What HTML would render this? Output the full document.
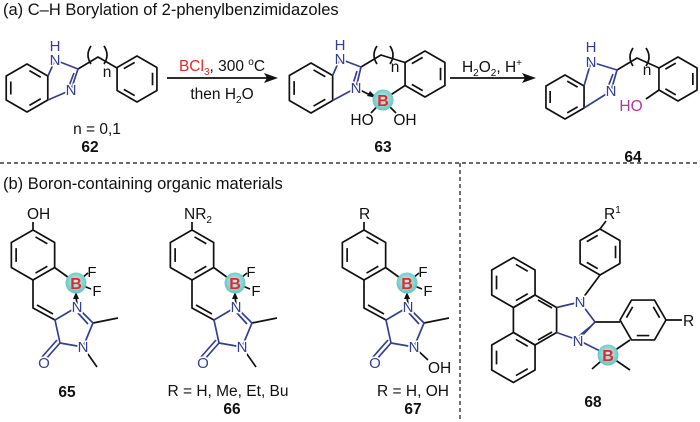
<!DOCTYPE html>
<html><head><meta charset="utf-8"><style>
html,body{margin:0;padding:0;background:#fff}
svg{display:block;font-family:"Liberation Sans",Arial,sans-serif}
.h{stroke:#fff;stroke-width:3;paint-order:stroke}
</style></head><body>
<svg width="700" height="422" viewBox="0 0 700 422" xmlns="http://www.w3.org/2000/svg">
<defs>
<radialGradient id="bg" cx="50%" cy="45%" r="55%"><stop offset="0" stop-color="#c9f0ee"/><stop offset="1" stop-color="#5ec5c3"/></radialGradient>
<path id="hA" vector-effect="non-scaling-stroke" d="M0,-1 L.866,-.5 L.866,.5 L0,1 L-.866,.5 L-.866,-.5Z M.101,-.722 L.574,-.449 M.574,.449 L.101,.722 M-.675,.273 L-.675,-.273"/>
<path id="hB" vector-effect="non-scaling-stroke" d="M0,-1 L.866,-.5 L.866,.5 L0,1 L-.866,.5 L-.866,-.5Z M.675,-.273 L.675,.273 M-.101,.722 L-.574,.449 M-.574,-.449 L-.101,-.722"/>
</defs>
<g font-size="16.5" fill="#111">
<text x="3" y="15">(a) C–H Borylation of 2-phenylbenzimidazoles</text>
<text x="3" y="189">(b) Boron-containing organic materials</text>
</g>
<g stroke="#111" stroke-width="1.2" stroke-dasharray="4 3" fill="none">
<line x1="0" y1="163" x2="700" y2="163"/>
<line x1="460" y1="163" x2="460" y2="422"/>
</g>

<g fill="none" stroke="#111" stroke-width="1.7" stroke-linejoin="round">
<!-- 62 -->
<use href="#hA" transform="translate(27,88) scale(24)"/>
<path d="M78,69 L98,57 L117,68"/>
<path d="M91,46 Q85,55 91,64 M104,46 Q110,55 104,64"/>
<use href="#hB" transform="translate(137,79) scale(23)"/>
<line x1="167" y1="78" x2="270" y2="78"/>
<!-- 63 -->
<use href="#hA" transform="translate(311,88) scale(25)"/>
<path d="M361,67 L381,55 L405,62.5"/>
<path d="M377,46 Q371,55 377,64 M390,46 Q396,55 390,64"/>
<use href="#hB" transform="translate(425,74) scale(23)"/>
<path d="M405,85.5 L383,100 M383,100 L371,113 M383,100 L396,113 M356,88 L372,96"/>
<line x1="450" y1="78" x2="528" y2="78"/>
<!-- 64 -->
<use href="#hA" transform="translate(565,97) scale(22)"/>
<path d="M617,70 L637,58 L659,68"/>
<path d="M633,48 Q627,57 633,66 M646,48 Q652,57 646,66"/>
<use href="#hB" transform="translate(678,79) scale(22)"/>
<path d="M659,90 L646,99"/>
</g>
<g fill="none" stroke="#343f93" stroke-width="1.7" stroke-linejoin="round">
<path d="M48,76 L55,60 M55,60 L78,69 L71,90 L48,100 M74,73 L69,86"/>
<path d="M332.6,75.5 L340,59 L361,67 L356,88 L332.6,100.5 M357,71 L353,84"/>
<path d="M584,86 L591,62 L617,70 L611,91 L584,108 M613,74 L608,87"/>
</g>
<g fill="#111">
<polygon points="278,78 264,73 267,78 264,83"/>
<polygon points="536,78 522,73 525,78 522,83"/>
<polygon points="377,98 367,96 370,91"/>
</g>
<g font-size="15" fill="#343f93" text-anchor="middle">
<text x="55" y="65" class="h">N</text><text x="55" y="51">H</text>
<text x="71" y="95" class="h">N</text>
<text x="340" y="64" class="h">N</text><text x="340" y="50">H</text>
<text x="356" y="93" class="h">N</text>
<text x="591" y="67" class="h">N</text><text x="591" y="52">H</text>
<text x="611" y="96" class="h">N</text>
</g>
<g font-size="15.5" fill="#111" text-anchor="middle">
<text x="107" y="77">n</text><text x="395" y="72">n</text><text x="647" y="75">n</text>
<text x="222" y="71"><tspan fill="#e8262a">BCl<tspan font-size="10" dy="4">3</tspan></tspan><tspan dy="-4">, 300 </tspan><tspan font-size="10" dy="-6">o</tspan><tspan dy="6">C</tspan></text>
<text x="222" y="99">then H<tspan font-size="10" dy="4">2</tspan><tspan dy="-4">O</tspan></text>
<text x="492" y="72">H<tspan font-size="10" dy="4">2</tspan><tspan dy="-4">O</tspan><tspan font-size="10" dy="4">2</tspan><tspan dy="-4">, H</tspan><tspan font-size="10" dy="-6">+</tspan></text>
<text x="97" y="134">n = 0,1</text>
<text x="90" y="152" font-weight="bold">62</text>
<text x="383" y="152" font-weight="bold">63</text>
<text x="633" y="162" font-weight="bold">64</text>
<text x="362" y="125" class="h">HO</text>
<text x="405" y="125" class="h">OH</text>
<text x="631" y="111" fill="#b0399a" class="h">HO</text>
</g>
<circle cx="383" cy="100" r="10.5" fill="url(#bg)"/>
<text x="383" y="106" font-size="16" font-weight="bold" fill="#e8262a" text-anchor="middle">B</text>

<!-- 65/66/67 -->
<g id="m65">
<g fill="none" stroke="#111" stroke-width="1.7" stroke-linejoin="round">
<use href="#hA" transform="translate(33,255) scale(25)"/>
<path d="M33,230 L33,222 M54.6,267.5 L76,283 M76,283 L88,273 M76,283 L91,289 M33,280 L33,308 L55,320 M37,305 L53,314 M77,305 L76,296"/>
<path d="M93,323 L118,318"/>
</g>
<polygon points="76,292 73,299 79,299" fill="#111"/>
<g fill="none" stroke="#343f93" stroke-width="1.7" stroke-linejoin="round">
<path d="M55,320 L77,307 L93,323 L83,347 L60,343 Z M78,313 L88,324 M60,343 L45,360 M57,340 L42,357"/>
</g>
<text x="77" y="312" font-size="15" fill="#343f93" text-anchor="middle" class="h">N</text>
<text x="44" y="368" font-size="15" fill="#343f93" text-anchor="middle" class="h">O</text>
<circle cx="76" cy="283" r="10.5" fill="url(#bg)"/>
<text x="76" y="289" font-size="16" font-weight="bold" fill="#e8262a" text-anchor="middle">B</text>
<text x="92" y="277" font-size="15" fill="#111" text-anchor="middle">F</text>
<text x="97" y="296" font-size="15" fill="#111" text-anchor="middle">F</text>
</g>
<g fill="none" stroke="#111" stroke-width="1.7"><path d="M83,347 L97,367 M242,347 L256,367"/></g>
<text x="83" y="352" font-size="15" fill="#343f93" text-anchor="middle" class="h">N</text>
<use href="#m65" transform="translate(159,0)"/>
<text x="242" y="352" font-size="15" fill="#343f93" text-anchor="middle" class="h">N</text>
<use href="#m65" transform="translate(331,0)"/>
<line x1="414" y1="347" x2="428" y2="360" stroke="#111" stroke-width="1.7"/>
<text x="414" y="352" font-size="15" fill="#343f93" text-anchor="middle" class="h">N</text>
<g font-size="15.5" fill="#111">
<text x="27" y="219">OH</text>
<text x="184" y="219">NR<tspan font-size="10" dy="4">2</tspan></text>
<text x="359" y="219">R</text>
<text x="428" y="373">OH</text>
<g text-anchor="middle">
<text x="67" y="397" font-weight="bold">65</text>
<text x="228" y="396">R = H, Me, Et, Bu</text>
<text x="232" y="414" font-weight="bold">66</text>
<text x="413" y="396">R = H, OH</text>
<text x="413" y="414" font-weight="bold">67</text>
<text x="593" y="407" font-weight="bold">68</text>
</g>
</g>

<!-- 68 -->
<g fill="none" stroke="#111" stroke-width="1.7" stroke-linejoin="round">
<path d="M535,295 L556.6,307.5 L556.6,332.5 L535,345 L513.4,332.5 L513.4,307.5 L535,295 M538,300 L552,308 M552,332 L538,340"/>
<use href="#hA" transform="translate(513.4,282.5) scale(25)"/>
<use href="#hA" transform="translate(513.4,357.5) scale(25)"/>
<use href="#hB" transform="translate(600,252) scale(23)"/>
<path d="M600,229 L606,221 M580,302 L600,275"/>
<use href="#hA" transform="translate(643,320) rotate(30) scale(23)"/>
<path d="M595,322 L620,322 M666,320 L682,320 M630,340 L608,355 M608,355 L592,369 M608,355 L630,370"/>
</g>
<g fill="none" stroke="#343f93" stroke-width="1.7" stroke-linejoin="round">
<path d="M556.6,307.5 L580,302 L595,322 L578,340 L556.6,332.5 M591,326 L579,336 M578,340 L608,355"/>
</g>
<g font-size="15" fill="#343f93" text-anchor="middle">
<text x="580" y="307" class="h">N</text>
<text x="578" y="346" class="h">N</text>
</g>
<circle cx="608" cy="355" r="10.5" fill="url(#bg)"/>
<text x="608" y="361" font-size="16" font-weight="bold" fill="#e8262a" text-anchor="middle">B</text>
<g font-size="15.5" fill="#111">
<text x="604" y="219">R<tspan font-size="10" dy="-6">1</tspan></text>
<text x="683" y="326">R</text>
</g>
</svg>
</body></html>
